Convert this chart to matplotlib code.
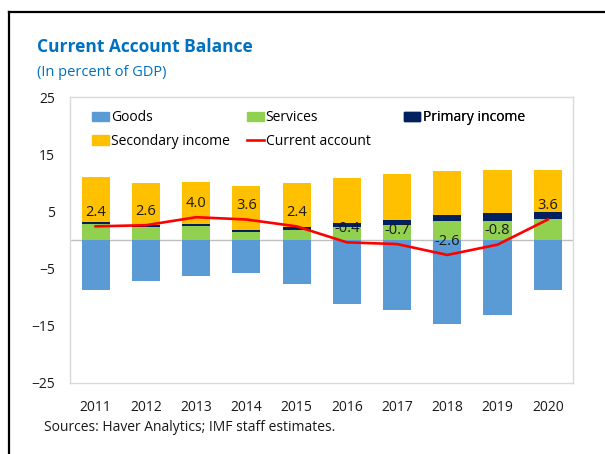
import matplotlib.pyplot as plt
from matplotlib.lines import Line2D
from matplotlib.patches import Patch
import numpy as np

plt.rcParams["font.family"] = ["Open Sans", "DejaVu Sans"]

years = ["2011", "2012", "2013", "2014", "2015", "2016", "2017", "2018", "2019", "2020"]
goods = [-8.7, -7.2, -6.2, -5.8, -7.6, -11.2, -12.3, -14.7, -13.1, -8.7]
services = [2.8, 2.3, 2.4, 1.5, 1.7, 2.2, 2.6, 3.3, 3.4, 3.6]
primary_income = [0.4, 0.3, 0.4, 0.3, 0.6, 0.8, 0.9, 1.0, 1.4, 1.3]
secondary_income = [7.9, 7.3, 7.4, 7.7, 7.6, 7.8, 8.1, 7.8, 7.4, 7.4]
current_account = [2.4, 2.6, 4.0, 3.6, 2.4, -0.4, -0.7, -2.6, -0.8, 3.6]
yticks = [25, 15, 5, -5, -15, -25]

c_goods = "#5B9BD5"
c_serv = "#92D050"
c_prim = "#002060"
c_sec = "#FFC000"
c_ca = "#FF0000"

fig = plt.figure(figsize=(6.05, 4.54), dpi=100)
ax = fig.add_axes([0.1165, 0.1564, 0.8305, 0.6296])

x = np.arange(len(years))
w = 0.56
serv = np.array(services)
prim = np.array(primary_income)
ax.bar(x, goods, w, color=c_goods, zorder=2)
ax.bar(x, serv, w, color=c_serv, zorder=2)
ax.bar(x, prim, w, bottom=serv, color=c_prim, zorder=2)
ax.bar(x, secondary_income, w, bottom=serv + prim, color=c_sec, zorder=2)
ax.axhline(0, color="#BFBFBF", lw=1, zorder=1)
ax.plot(x, current_account, color=c_ca, lw=1.9, zorder=3)

# data labels above the current account line
for xi, v in zip(x, current_account):
    ax.annotate(f"{v:.1f}", (xi, v), xytext=(0, 10), textcoords="offset points",
                ha="center", va="center", fontsize=10.5, color="#1a1a1a", zorder=4)

ax.set_xlim(-0.5, len(years) - 0.5)
ax.set_ylim(-25, 25)
ax.set_yticks(yticks)
ax.set_xticks(x)
ax.set_xticklabels(years)
ax.tick_params(length=0, labelsize=10, colors="#1a1a1a")
ax.tick_params(axis="y", pad=11)
ax.tick_params(axis="x", pad=12)
for s in ax.spines.values():
    s.set_color("#D9D9D9")
    s.set_linewidth(1)

# legend, one block per column
def col_legend(handles, labels, xpos):
    lg = ax.legend(handles, labels, loc="upper left", bbox_to_anchor=(xpos, 0.968),
                   frameon=False, fontsize=10, handlelength=1.2, handleheight=0.7,
                   handletextpad=0.15, labelspacing=0.62, borderaxespad=0, borderpad=0.3)
    ax.add_artist(lg)

col_legend([Patch(color=c_goods), Patch(color=c_sec)], ["Goods", "Secondary income"], 0.035)
col_legend([Patch(color=c_serv), Line2D([], [], color=c_ca, lw=1.9)],
           ["Services", "Current account"], 0.343)
col_legend([Patch(color=c_prim)], ["Primary income"], 0.655)

fig.text(0.061, 0.896, "Current Account Balance", fontsize=12.5, fontweight="bold",
         color="#0070C0", va="center")
fig.text(0.061, 0.841, "(In percent of GDP)", fontsize=10.5, color="#0070C0", va="center")
fig.text(0.073, 0.059, "Sources: Haver Analytics; IMF staff estimates.", fontsize=10,
         color="#1a1a1a", va="center")

# black frame at top and left
fig.add_artist(Line2D([0.0149, 1], [0.9736, 0.9736], color="black", lw=1.6,
                      transform=fig.transFigure))
fig.add_artist(Line2D([0.0149, 0.0149], [0, 0.9736], color="black", lw=1.6,
                      transform=fig.transFigure))

fig.savefig("out.png", dpi=100)
